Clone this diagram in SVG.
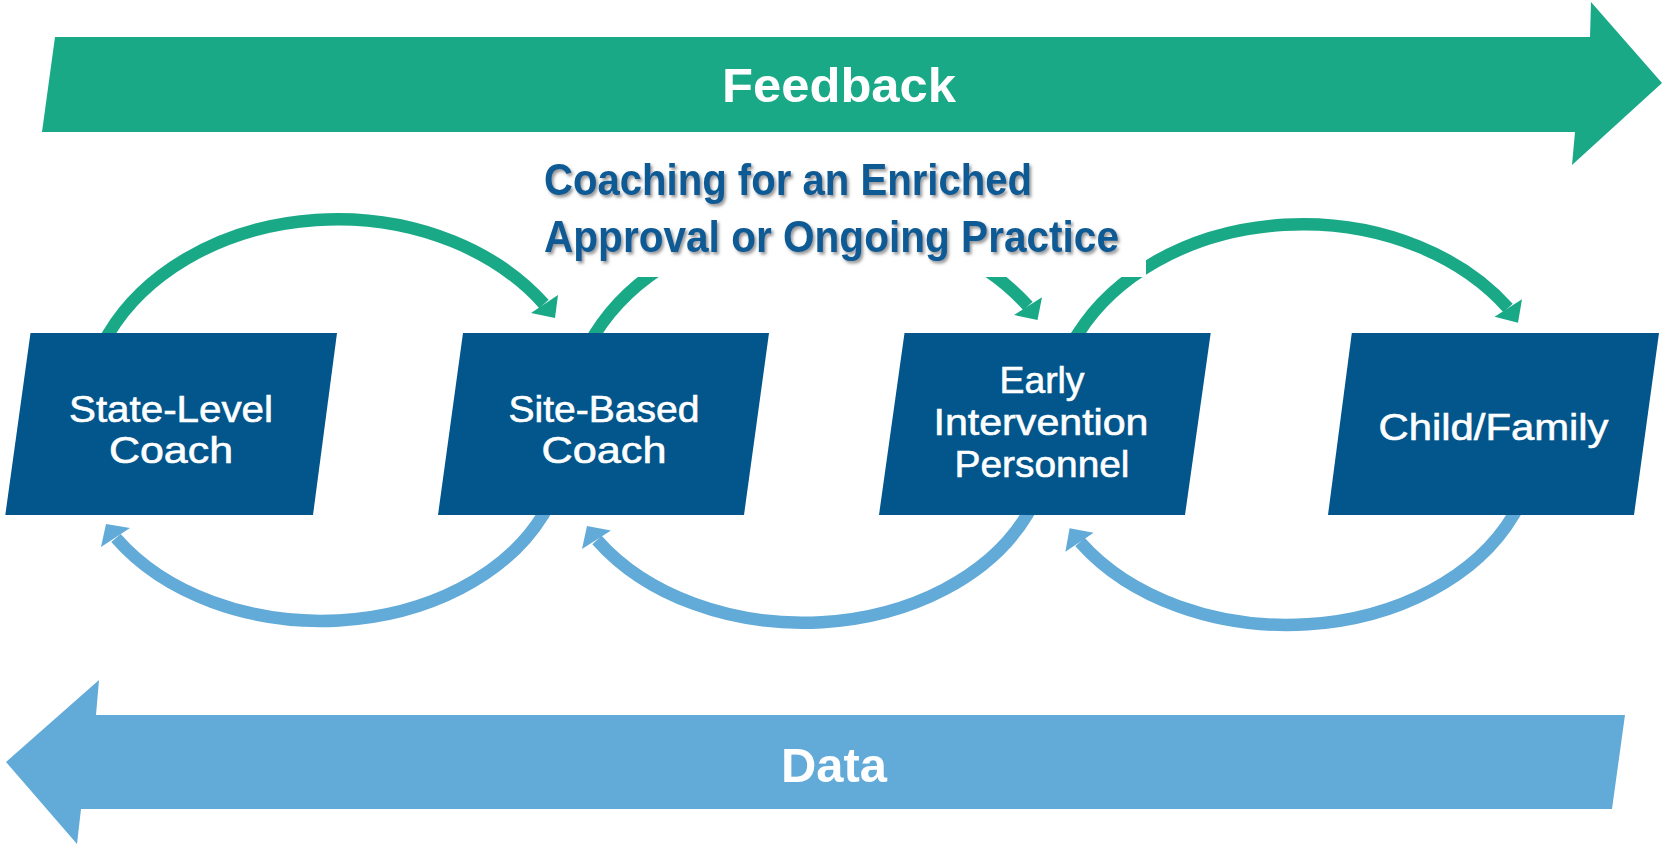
<svg xmlns="http://www.w3.org/2000/svg" width="1665" height="846" viewBox="0 0 1665 846">
  <defs>
    <style>
      .node { fill: #02568C; }
      .ntxt { font-family: "Liberation Sans", Arial, sans-serif; font-size: 37px; fill: #FFFFFF; text-anchor: middle; stroke: #FFFFFF; stroke-width: 0.6px; }
      .green { fill: none; stroke: #1AA987; stroke-width: 12.5; }
      .greenhead { fill: #1AA987; }
      .blue { fill: none; stroke: #62AAD7; stroke-width: 12.5; }
      .bluehead { fill: #62AAD7; }
      .big { font-family: "Liberation Sans", Arial, sans-serif; font-size: 49px; font-weight: bold; fill: #FFFFFF; text-anchor: middle; }
      .title { font-family: "Liberation Sans", Arial, sans-serif; font-size: 44px; font-weight: bold; fill: #0B5A94; }
    </style>
    <filter id="shadow" x="-5%" y="-20%" width="110%" height="150%">
      <feDropShadow dx="2" dy="2.5" stdDeviation="1.4" flood-color="#444444" flood-opacity="0.55"/>
    </filter>
  </defs>

  <g id="feedback-arrow">
    <polygon points="55,37 1590,37 1591,2 1662,83 1572,165 1575,132 42,132" fill="#1AA987"/>
    <text class="big" x="839" y="102" textLength="234" lengthAdjust="spacingAndGlyphs">Feedback</text>
  </g>

  <g id="data-arrow">
    <polygon points="1625,715 96,715 99,680 6,762 77,844 81,809 1612,809" fill="#62AAD7"/>
    <text class="big" x="834" y="782" textLength="106" lengthAdjust="spacingAndGlyphs">Data</text>
  </g>

  <g id="connectors">
    <!-- feedback arcs (green) -->
    <path class="green" d="M 102.7 343 L 109 333 A 253 200 0 0 1 544 304"/>
    <polygon class="greenhead" points="555,318 531,313 558,295"/>
    <path class="green" d="M 589 344 L 595 334 A 253 200 0 0 1 1028 306"/>
    <polygon class="greenhead" points="1037.5,320 1014,315 1042,297.3"/>
    <path class="green" d="M 1072 343 L 1078.5 333 A 250 195 0 0 1 1508 308"/>
    <polygon class="greenhead" points="1518,322.7 1494.6,316.7 1522,299.3"/>
    <!-- data arcs (blue) -->
    <path class="blue" d="M 549 505 L 543 515 A 244 181 0 0 1 116 538"/>
    <polygon class="bluehead" points="106,524 130,528 101,547"/>
    <path class="blue" d="M 1033 505 L 1027 515 A 246 183 0 0 1 597 540"/>
    <polygon class="bluehead" points="587,526 611,530.5 582,549"/>
    <path class="blue" d="M 1519.5 505 L 1513.5 515 A 248 185 0 0 1 1080 542"/>
    <polygon class="bluehead" points="1069.6,528.3 1093.6,532.7 1065.4,551.7"/>
  </g>

  <g id="title">
    <rect x="535" y="140" width="611" height="137" fill="#FFFFFF"/>
    <g filter="url(#shadow)">
      <text class="title" x="544" y="195" textLength="488" lengthAdjust="spacingAndGlyphs">Coaching for an Enriched</text>
      <text class="title" x="544" y="252" textLength="575" lengthAdjust="spacingAndGlyphs">Approval or Ongoing Practice</text>
    </g>
  </g>

  <g id="node-state-level-coach">
    <polygon class="node" points="30.5,333 337,333 313,515 5.3,515"/>
    <text class="ntxt" x="171" y="421.7" textLength="204" lengthAdjust="spacingAndGlyphs">State-Level</text>
    <text class="ntxt" x="171" y="463.3" textLength="124" lengthAdjust="spacingAndGlyphs">Coach</text>
  </g>

  <g id="node-site-based-coach">
    <polygon class="node" points="463,333 769,333 744,515 438,515"/>
    <text class="ntxt" x="604" y="421.7" textLength="191" lengthAdjust="spacingAndGlyphs">Site-Based</text>
    <text class="ntxt" x="604" y="463.3" textLength="125" lengthAdjust="spacingAndGlyphs">Coach</text>
  </g>

  <g id="node-early-intervention-personnel">
    <polygon class="node" points="904.5,333 1210.7,333 1185,515 879,515"/>
    <text class="ntxt" x="1042" y="393.3" textLength="85" lengthAdjust="spacingAndGlyphs">Early</text>
    <text class="ntxt" x="1041" y="435" textLength="215" lengthAdjust="spacingAndGlyphs">Intervention</text>
    <text class="ntxt" x="1042" y="476.7" textLength="175" lengthAdjust="spacingAndGlyphs">Personnel</text>
  </g>

  <g id="node-child-family">
    <polygon class="node" points="1351.8,333 1659,333 1634,515 1328,515"/>
    <text class="ntxt" x="1493.5" y="440" textLength="230" lengthAdjust="spacingAndGlyphs">Child/Family</text>
  </g>
</svg>
